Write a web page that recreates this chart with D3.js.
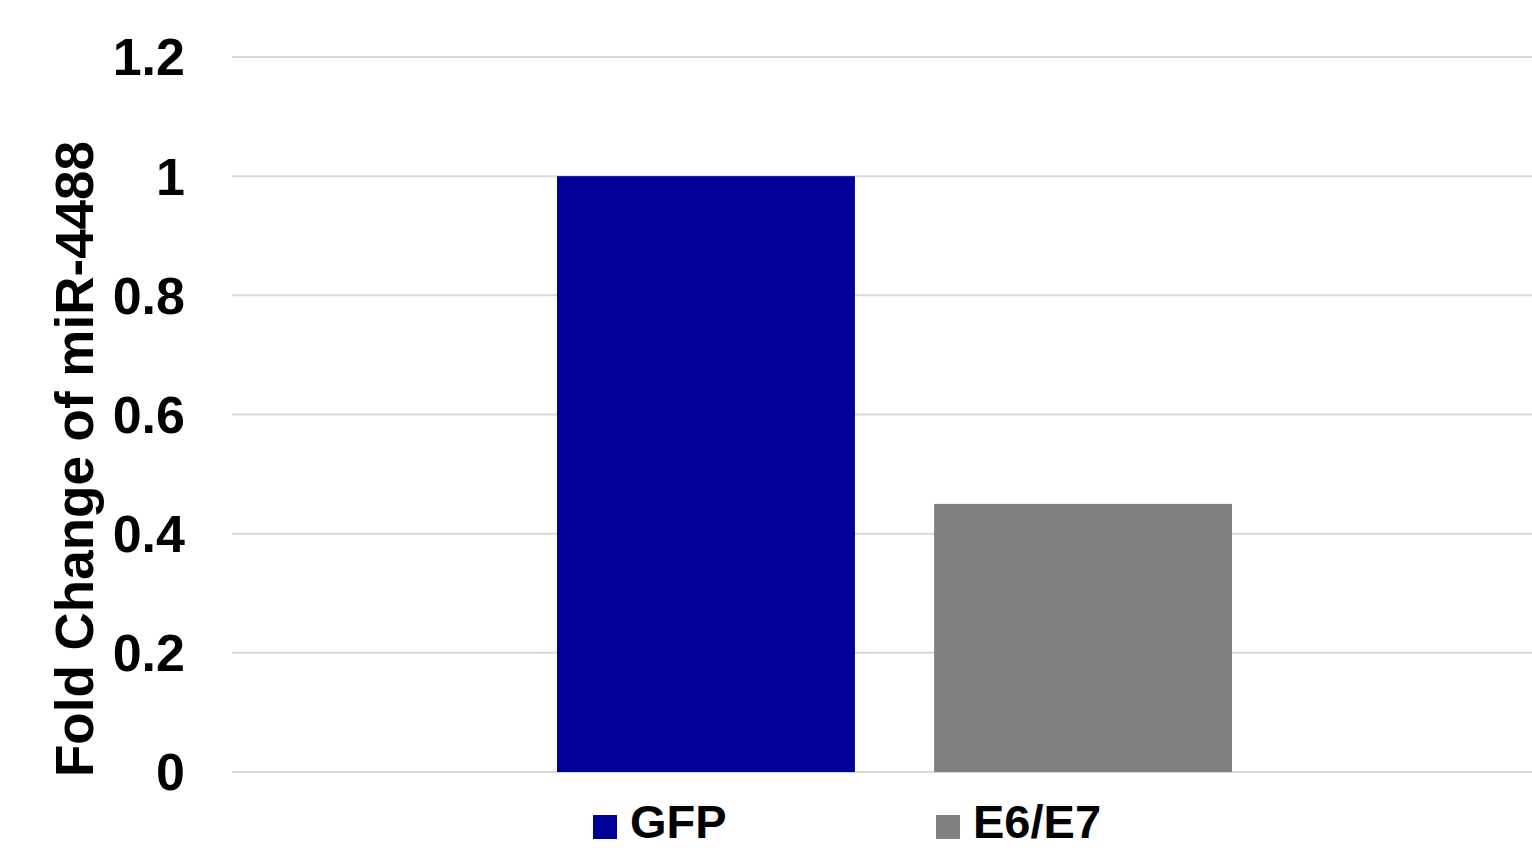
<!DOCTYPE html>
<html>
<head>
<meta charset="utf-8">
<script src="https://cdn.jsdelivr.net/npm/d3@7"></script>
<style>
  html, body { margin: 0; padding: 0; background: #fff; overflow: hidden; }
  svg { display: block; font-family: "Liberation Sans", Arial, sans-serif; font-weight: bold; }
</style>
</head>
<body>
<svg id="chart" width="1532" height="848"></svg>
<script>
// Series and their values (fold change relative to GFP control)
const series = ["GFP", "E6/E7"];
const values = [1.0, 0.45];
const colors = ["#000099", "#808080"];
const yTicks = [0, 0.2, 0.4, 0.6, 0.8, 1, 1.2];
const yTickLabels = ["0", "0.2", "0.4", "0.6", "0.8", "1", "1.2"];
const yTitle = "Fold Change of miR-4488";

const svg = d3.select("#chart");

const plot = { left: 232, right: 1532, top: 57, bottom: 772 };

const y = d3.scaleLinear()
  .domain([0, 1.2])
  .range([plot.bottom, plot.top]);

// The two bars sit side by side inside a single category group
const x = d3.scaleBand()
  .domain(series)
  .range([557, 1232])
  .paddingInner(0.21)
  .paddingOuter(0);

// Horizontal gridlines
svg.append("g")
  .selectAll("line")
  .data(yTicks)
  .join("line")
  .attr("x1", plot.left)
  .attr("x2", plot.right)
  .attr("y1", d => y(d))
  .attr("y2", d => y(d))
  .attr("stroke", "#d9d9d9")
  .attr("stroke-width", 2);

// Y-axis tick labels
svg.append("g")
  .selectAll("text")
  .data(yTicks)
  .join("text")
  .attr("x", 185)
  .attr("y", d => y(d))
  .attr("dy", "0.355em")
  .attr("text-anchor", "end")
  .attr("font-size", 52)
  .attr("fill", "#000")
  .text((d, i) => yTickLabels[i]);

// Bars
svg.append("g")
  .selectAll("rect")
  .data(series)
  .join("rect")
  .attr("x", d => x(d))
  .attr("width", x.bandwidth())
  .attr("y", (d, i) => y(values[i]))
  .attr("height", (d, i) => y(0) - y(values[i]))
  .attr("fill", (d, i) => colors[i]);

// Y-axis title
svg.append("text")
  .attr("transform", "translate(93,459) rotate(-90)")
  .attr("text-anchor", "middle")
  .attr("font-size", 53)
  .attr("fill", "#000")
  .text(yTitle);

// Legend along the bottom
const legendX = [593, 936];
const legend = svg.append("g")
  .selectAll("g")
  .data(series)
  .join("g")
  .attr("transform", (d, i) => `translate(${legendX[i]},0)`);

legend.append("rect")
  .attr("x", 0)
  .attr("y", 815)
  .attr("width", 24)
  .attr("height", 24)
  .attr("fill", (d, i) => colors[i]);

legend.append("text")
  .attr("x", 37)
  .attr("y", 838)
  .attr("font-size", 47)
  .attr("fill", "#000")
  .text(d => d);
</script>
</body>
</html>
